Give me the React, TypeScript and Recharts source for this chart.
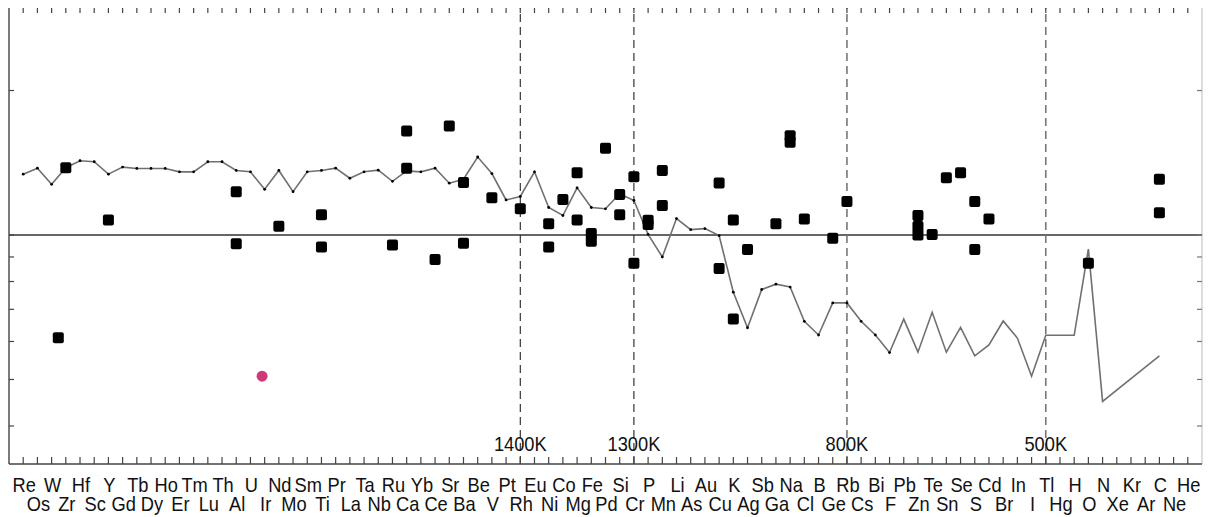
import {
  ComposedChart,
  Line,
  Scatter,
  XAxis,
  YAxis,
  ReferenceLine,
} from "recharts";

// element order along the x axis (labels alternate between two rows)
const elements = [
  "Re", "Os", "W", "Zr", "Hf", "Sc", "Y", "Gd", "Tb", "Dy", "Ho", "Er", "Tm", "Lu",
  "Th", "Al", "U", "Ir", "Nd", "Mo", "Sm", "Ti", "Pr", "La", "Ta", "Nb", "Ru", "Ca",
  "Yb", "Ce", "Sr", "Ba", "Be", "V", "Pt", "Rh", "Eu", "Ni", "Co", "Mg", "Fe", "Pd",
  "Si", "Cr", "P", "Mn", "Li", "As", "Au", "Cu", "K", "Ag", "Sb", "Ga", "Na", "Cl",
  "B", "Ge", "Rb", "Cs", "Bi", "F", "Pb", "Zn", "Te", "Sn", "Se", "S", "Cd", "Br",
  "In", "I", "Tl", "Hg", "H", "O", "N", "Xe", "Kr", "Ar", "C", "Ne", "He",
];

// reference abundance curve, one value per element (null = no value)
const curve: (number | null)[] = [
  1.339, 1.378, 1.275, 1.381, 1.428, 1.421, 1.339, 1.385, 1.376, 1.376, 1.376, 1.354, 1.354, 1.421,
  1.421, 1.363, 1.354, 1.245, 1.363, 1.231, 1.354, 1.363, 1.378, 1.313, 1.354, 1.365, 1.294, 1.36,
  1.354, 1.378, 1.282, 1.307, 1.454, 1.343, 1.183, 1.203, 1.354, 1.141, 1.098, 1.254, 1.141, 1.134,
  1.219, 1.18, 1.003, 0.9, 1.082, 1.026, 1.031, 0.997, 0.76, 0.641, 0.77, 0.79, 0.779, 0.661,
  0.619, 0.722, 0.722, 0.661, 0.619, 0.569, 0.668, 0.57, 0.69, 0.57, 0.642, 0.56, 0.59, 0.662,
  0.61, 0.508, 0.618, 0.618, 0.618, 0.935, 0.45, null, null, null, 0.56, null, null,
];
const lastMarked = "F"; // points up to here carry a small marker

// measured ratios: [element, value, shift along axis]
const measured: [string, number, number?][] = [
  ["W", 0.611, 0.47], ["Zr", 1.381], ["Y", 1.075], ["Al", 1.231], ["Al", 0.959],
  ["Nd", 1.043], ["Ti", 1.102], ["Ti", 0.944], ["Ru", 0.953], ["Ca", 1.646], ["Ca", 1.378],
  ["Sr", 1.686], ["Ba", 1.286], ["Ba", 0.961], ["Ce", 0.889], ["V", 1.196], ["Rh", 1.134],
  ["Ni", 1.055], ["Ni", 0.944], ["Co", 1.186], ["Mg", 1.348], ["Mg", 1.075], ["Fe", 1.007],
  ["Fe", 0.971], ["Pd", 1.516], ["Si", 1.215], ["Si", 1.102], ["Cr", 1.322], ["Cr", 0.873],
  ["P", 1.073], ["P", 1.052], ["Mn", 1.363], ["Mn", 1.152], ["Cu", 1.284], ["Cu", 0.852],
  ["K", 1.075], ["K", 0.668], ["Ag", 0.933], ["Ga", 1.055], ["Na", 1.61], ["Na", 1.561],
  ["Cl", 1.08], ["Ge", 0.984], ["Rb", 1.175], ["Zn", 1.098], ["Zn", 1.041], ["Zn", 1.0],
  ["Te", 1.003], ["Sn", 1.316], ["Se", 1.348], ["S", 1.175], ["S", 0.933], ["Cd", 1.08],
  ["O", 0.873], ["C", 1.307], ["C", 1.112],
];
const highlight: [string, number, number?][] = [["Ir", 0.508, -0.18]];

// condensation temperature markers
const tempMarks: [string, string][] = [
  ["Rh", "1400K"], ["Cr", "1300K"], ["Rb", "800K"], ["Tl", "500K"],
];

const yTicks = [0.4, 0.5, 0.6, 0.7, 0.8, 0.9, 1, 2];
const X_DOMAIN: [number, number] = [-1, 83];
const Y_DOMAIN: [number, number] = [1 / 3, 3];

const pos = (el: string) => elements.indexOf(el);
const curveData = elements.map((el, i) => ({
  x: i,
  v: curve[i],
  marked: i <= pos(lastMarked),
}));
const toPoints = (list: [string, number, number?][]) =>
  list.map(([el, v, shift]) => ({ x: pos(el) + (shift ?? 0), v }));
const xTicks = elements.map((_, i) => i);

// frame tick marks, placed on the frame edges in data units
const topTicks = xTicks.map((x) => ({ x, v: Y_DOMAIN[1] }));
const bottomTicks = xTicks.map((x) => ({ x, v: Y_DOMAIN[0] }));
const leftTicks = yTicks.map((v) => ({ x: X_DOMAIN[0], v }));
const rightTicks = yTicks.map((v) => ({ x: X_DOMAIN[1], v }));

const FONT = "'Liberation Sans', Arial, sans-serif";

function NarrowText({ x, y, children }: any) {
  return (
    <text
      transform={`translate(${x} ${y}) scale(0.87 1)`}
      textAnchor="middle"
      fontFamily={FONT}
      fontSize={21}
      fill="#111"
    >
      {children}
    </text>
  );
}

function BottomLabel({ x, y, payload }: any) {
  const i = payload.value;
  return (
    <NarrowText x={x + 1} y={y + (i % 2 === 0 ? 18 : 37)}>
      {elements[i]}
    </NarrowText>
  );
}

const tickMark = (dx: number, dy: number, stroke = "#444") => (p: any) => (
  <line x1={p.cx} y1={p.cy} x2={p.cx + dx} y2={p.cy + dy} stroke={stroke} strokeWidth={1.2} />
);

const edge = { stroke: "#444", strokeWidth: 1.4 };
const ids = { xAxisId: "b", yAxisId: "l" };

export default function App() {
  return (
    <div style={{ margin: "-8px 0 0 -8px", background: "#fff", width: 1214, height: 517 }}>
      <ComposedChart width={1214} height={517} margin={{ top: 6, right: 12, bottom: 52, left: 9 }}>
        <XAxis
          xAxisId="b"
          type="number"
          dataKey="x"
          domain={X_DOMAIN}
          allowDataOverflow
          ticks={xTicks}
          interval={0}
          height={1}
          tickSize={7}
          tickMargin={3}
          tickLine={false}
          axisLine={edge}
          tick={<BottomLabel />}
        />
        <YAxis
          yAxisId="l"
          mirror
          scale="log"
          type="number"
          domain={Y_DOMAIN}
          allowDataOverflow
          ticks={yTicks}
          width={1}
          tickLine={false}
          axisLine={edge}
          tick={false}
        />
        <ReferenceLine {...ids} y={Y_DOMAIN[1]} stroke="#444" strokeWidth={1.4} />
        <ReferenceLine {...ids} x={X_DOMAIN[1]} stroke="#c8c8c8" strokeWidth={1.2} />
        <ReferenceLine {...ids} y={1} stroke="#333" strokeWidth={1.3} />
        {tempMarks.map(([el, text], k) => (
          <ReferenceLine
            key={text}
            {...ids}
            x={pos(el)}
            stroke={k < 2 ? "#222" : "#777"}
            strokeWidth={k < 2 ? 1.1 : 1.6}
            strokeDasharray="8 5"
            label={(p: any) => {
              const vb = p.viewBox;
              return (
                <NarrowText x={vb.x} y={vb.y + vb.height - 13}>
                  {text}
                </NarrowText>
              );
            }}
          />
        ))}
        <Scatter {...ids} data={topTicks} dataKey="v" isAnimationActive={false} shape={tickMark(0, 7)} />
        <Scatter {...ids} data={bottomTicks} dataKey="v" isAnimationActive={false} shape={tickMark(0, -7)} />
        <Scatter {...ids} data={leftTicks} dataKey="v" isAnimationActive={false} shape={tickMark(5, 0)} />
        <Scatter {...ids} data={rightTicks} dataKey="v" isAnimationActive={false} shape={tickMark(-5, 0, "#777")} />
        <Line
          {...ids}
          data={curveData}
          dataKey="v"
          type="linear"
          stroke="#707070"
          strokeWidth={1.6}
          connectNulls
          isAnimationActive={false}
          dot={(p: any) =>
            p.payload.marked && p.cx != null ? (
              <circle key={p.key} cx={p.cx} cy={p.cy} r={1.4} fill="#000" />
            ) : (
              <g key={p.key} />
            )
          }
          activeDot={false}
        />
        <Scatter
          {...ids}
          data={toPoints(measured)}
          dataKey="v"
          isAnimationActive={false}
          shape={(p: any) => (
            <rect x={p.cx - 5.5} y={p.cy - 5.5} width={11} height={11} rx={2} fill="#000" />
          )}
        />
        <Scatter
          {...ids}
          data={toPoints(highlight)}
          dataKey="v"
          isAnimationActive={false}
          shape={(p: any) => <circle cx={p.cx} cy={p.cy} r={5.5} fill="#cc3a7a" />}
        />
      </ComposedChart>
    </div>
  );
}
